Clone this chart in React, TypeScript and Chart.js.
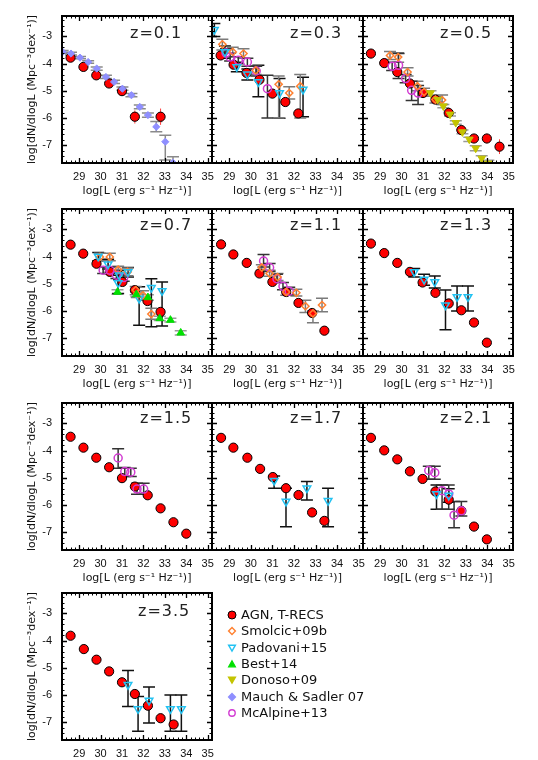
import React, { useEffect, useRef } from 'react';
import { Chart, registerables } from 'chart.js';

Chart.register(...registerables);

// ---------- axes ----------
const X_TICKS = [29, 30, 31, 32, 33, 34, 35];
const Y_TICKS = [-3, -4, -5, -6, -7];
const X_MIN = 28.2;
const X_MAX = 35.2;
const Y_MIN = -7.65;
const Y_MAX = -2.25;
const X_TITLE = 'log[L (erg s⁻¹ Hz⁻¹)]';
const Y_TITLE = 'log[dN/dlogL (Mpc⁻³dex⁻¹)]';

// ---------- data: [logL, logPhi, errLow, errHigh] ----------
type P = [number, number, number | null, number | null];
const n = null;

// z = 0.1
const z01Agn: P[] = [[28.6, -3.78, n, n], [29.2, -4.12, n, n], [29.8, -4.43, n, n], [30.4, -4.73, n, n], [31.0, -5.01, n, n], [31.6, -5.95, -6.2, -5.72], [32.8, -5.95, -6.25, -5.65]];
const z01Mauch: P[] = [[28.23, -3.57, -3.62, -3.52], [28.62, -3.63, -3.68, -3.58], [29.04, -3.78, -3.82, -3.74], [29.42, -3.94, -3.99, -3.89], [29.82, -4.18, -4.24, -4.12], [30.25, -4.49, -4.55, -4.43], [30.63, -4.67, -4.73, -4.61], [31.02, -4.92, -4.98, -4.86], [31.44, -5.16, -5.22, -5.1], [31.83, -5.59, -5.66, -5.52], [32.21, -5.89, -5.97, -5.81], [32.6, -6.32, -6.5, -6.13], [33.02, -6.87, -7.54, -6.63], [33.38, -7.64, -8.5, -7.42]];

// z = 0.3
const z03Agn: P[] = [[28.6, -3.7, n, n], [29.2, -4.04, n, n], [29.8, -4.34, n, n], [30.4, -4.59, n, n], [31.0, -5.1, n, n], [31.6, -5.41, n, n], [32.2, -5.83, n, n]];
const z03Smolcic: P[] = [[28.68, -3.29, -3.5, -3.1], [29.16, -3.57, -3.75, -3.4], [29.66, -3.63, -3.8, -3.45], [30.23, -4.25, -4.4, -4.1], [31.29, -4.76, -6.0, -4.45], [31.78, -5.08, -5.3, -4.85], [32.29, -4.83, -6.0, -4.4]];
const z03Padovani: P[] = [[28.31, -2.75, -3.0, -2.53], [28.8, -3.57, -3.8, -3.35], [29.35, -4.12, -4.3, -3.95], [29.84, -4.39, -4.6, -4.2], [30.35, -4.67, -5.22, -4.06], [31.33, -5.08, -6.01, -4.55], [32.42, -4.95, -5.95, -4.5]];
const z03McAlpine: P[] = [[28.85, -3.61, -3.75, -3.45], [29.04, -3.76, -3.9, -3.62], [29.42, -3.88, -4.0, -3.75], [29.84, -3.94, -4.1, -3.8], [30.25, -4.27, -4.45, -4.1], [30.77, -4.92, -6.0, -4.43]];

// z = 0.5
const z05Agn: P[] = [[28.57, -3.63, n, n], [29.19, -3.98, n, n], [29.8, -4.31, n, n], [30.39, -4.73, n, n], [31.0, -5.08, n, n], [31.58, -5.32, n, n], [32.2, -5.81, n, n], [32.79, -6.44, n, n], [33.38, -6.75, -6.85, -6.65], [33.98, -6.75, -6.93, -6.57], [34.57, -7.05, -7.32, -6.78]];
const z05Smolcic: P[] = [[29.46, -3.7, -3.85, -3.55], [29.84, -3.76, -3.95, -3.6], [30.28, -4.31, -4.45, -4.15], [30.74, -4.83, -5.0, -4.65], [31.05, -5.04, -5.2, -4.9], [31.58, -5.32, -5.45, -5.2], [31.89, -5.34, -5.5, -5.15]];
const z05McAlpine: P[] = [[29.56, -4.1, -4.25, -3.95], [29.86, -4.06, -4.55, -3.63], [30.19, -4.55, -4.7, -4.4], [30.47, -4.98, -5.35, -4.65], [30.77, -5.08, -5.5, -4.8]];
const z05Donoso: P[] = [[31.35, -5.08, -5.15, -5.0], [31.68, -5.32, -5.4, -5.24], [31.95, -5.56, -5.62, -5.5], [32.26, -5.86, -5.92, -5.8], [32.53, -6.17, -6.23, -6.1], [32.84, -6.51, -6.58, -6.44], [33.16, -6.78, -6.86, -6.7], [33.46, -7.11, -7.2, -7.02], [33.74, -7.48, -7.6, -7.38], [34.05, -7.66, -7.8, -7.55]];

// z = 0.7
const z07Agn: P[] = [[28.6, -3.56, n, n], [29.19, -3.89, n, n], [29.81, -4.26, n, n], [30.43, -4.56, n, n], [31.02, -4.93, n, n], [31.6, -5.23, n, n], [32.19, -5.63, n, n], [32.8, -6.03, n, n]];
const z07Best: P[] = [[30.79, -5.3, -5.38, -5.22], [31.67, -5.39, -5.47, -5.31], [32.21, -5.5, -5.6, -5.4], [32.76, -6.27, -6.35, -6.19], [33.26, -6.33, -6.4, -6.26], [33.74, -6.8, -6.88, -6.72]];
const z07Padovani: P[] = [[29.89, -3.99, -4.15, -3.85], [30.35, -4.28, -4.45, -4.1], [30.87, -4.68, -4.85, -4.5], [31.28, -4.56, -4.75, -4.4], [30.82, -4.97, -5.35, -4.68], [31.8, -5.54, -6.52, -5.11], [32.37, -5.14, -6.58, -4.81], [32.87, -5.26, -6.55, -4.93]];
const z07Smolcic: P[] = [[29.97, -4.01, -4.15, -3.88], [30.43, -4.01, -4.15, -3.88], [30.82, -4.48, -4.6, -4.35], [31.26, -4.56, -4.7, -4.42], [31.64, -5.23, -5.4, -5.1], [31.7, -5.38, -5.5, -5.25], [31.98, -5.42, -5.6, -5.25], [32.37, -6.11, -6.3, -5.9]];
const z07McAlpine: P[] = [[30.12, -4.5, -4.62, -4.38], [30.43, -4.5, -4.62, -4.38], [30.74, -4.68, -4.8, -4.55], [31.08, -4.77, -4.9, -4.62]];

// z = 1.1
const z11Agn: P[] = [[28.62, -3.55, n, n], [29.19, -3.92, n, n], [29.81, -4.23, n, n], [30.4, -4.62, n, n], [31.0, -4.93, n, n], [31.64, -5.3, n, n], [32.21, -5.7, n, n], [32.84, -6.07, n, n], [33.41, -6.72, n, n]];
const z11McAlpine: P[] = [[30.59, -4.16, -4.38, -3.92], [30.87, -4.4, -4.55, -4.25], [31.21, -4.81, -4.95, -4.65], [31.49, -5.09, -5.22, -4.95], [31.78, -5.27, -5.4, -5.12]];
const z11Smolcic: P[] = [[30.51, -4.4, -4.5, -4.3], [30.87, -4.62, -4.72, -4.5], [31.24, -4.75, -4.88, -4.62], [31.64, -5.3, -5.42, -5.18], [32.11, -5.33, -5.45, -5.2], [32.53, -5.82, -6.05, -5.6], [32.88, -6.09, -6.43, -6.0], [33.3, -5.78, -6.02, -5.53]];

// z = 1.3
const z13Agn: P[] = [[28.57, -3.52, n, n], [29.19, -3.87, n, n], [29.8, -4.23, n, n], [30.39, -4.56, n, n], [30.98, -4.95, n, n], [31.58, -5.33, n, n], [32.2, -5.72, n, n], [32.79, -5.97, n, n], [33.38, -6.42, n, n], [33.98, -7.16, -7.28, -7.04]];
const z13Padovani: P[] = [[30.59, -4.56, -4.75, -4.44], [31.05, -4.84, -5.05, -4.65], [31.55, -4.93, -5.15, -4.71], [32.05, -5.78, -6.69, -5.23], [32.59, -5.48, -6.0, -5.08], [33.1, -5.48, -6.0, -5.08]];

// z = 1.5
const z15Agn: P[] = [[28.6, -3.49, n, n], [29.2, -3.89, n, n], [29.8, -4.26, n, n], [30.4, -4.61, n, n], [31.0, -5.01, n, n], [31.6, -5.32, n, n], [32.2, -5.64, n, n], [32.8, -6.12, n, n], [33.4, -6.63, n, n], [34.0, -7.05, n, n]];
const z15McAlpine: P[] = [[30.82, -4.27, -4.65, -3.93], [31.13, -4.77, -4.95, -4.62], [31.41, -4.79, -4.95, -4.65], [31.7, -5.41, -5.6, -5.2], [32.01, -5.41, -5.6, -5.2]];

// z = 1.7
const z17Agn: P[] = [[28.62, -3.53, n, n], [29.19, -3.89, n, n], [29.84, -4.26, n, n], [30.43, -4.67, n, n], [31.02, -4.97, n, n], [31.63, -5.38, n, n], [32.21, -5.63, n, n], [32.84, -6.27, n, n], [33.41, -6.58, n, n]];
const z17Padovani: P[] = [[31.08, -5.1, -5.38, -4.93], [31.63, -5.87, -6.8, -5.38], [32.6, -5.38, -5.81, -5.13], [33.58, -5.84, -6.8, -5.38]];

// z = 2.1
const z21Agn: P[] = [[28.57, -3.53, n, n], [29.19, -3.99, n, n], [29.8, -4.32, n, n], [30.39, -4.76, n, n], [30.98, -5.04, n, n], [31.58, -5.5, n, n], [32.2, -5.8, n, n], [32.79, -6.21, n, n], [33.38, -6.79, n, n], [33.98, -7.26, -7.38, -7.14]];
const z21McAlpine: P[] = [[31.27, -4.73, -5.05, -4.57], [31.55, -4.81, -5.05, -4.57], [31.89, -5.47, -6.15, -5.26], [32.2, -5.59, -6.15, -5.26], [32.45, -6.37, -6.83, -5.87], [32.79, -6.21, -6.4, -5.87]];
const z21Padovani: P[] = [[31.63, -5.59, -6.15, -5.26], [32.2, -5.65, -5.9, -5.4]];

// z = 3.5
const z35Agn: P[] = [[28.6, -3.82, n, n], [29.22, -4.31, n, n], [29.81, -4.7, n, n], [30.4, -5.13, n, n], [31.0, -5.53, n, n], [31.6, -5.96, n, n], [32.21, -6.39, n, n], [32.8, -6.85, n, n], [33.41, -7.08, n, n]];
const z35Padovani: P[] = [[31.28, -5.62, -6.42, -5.1], [31.75, -6.51, -7.33, -6.05], [32.26, -6.2, -7.03, -5.7], [33.26, -6.51, -7.33, -6.0], [33.77, -6.51, -7.33, -6.0]];

const REDSHIFT_LABELS = ['z=0.1', 'z=0.3', 'z=0.5', 'z=0.7', 'z=1.1', 'z=1.3', 'z=1.5', 'z=1.7', 'z=2.1', 'z=3.5'];

// ---------- series styles ----------
type Style = {
  label: string; pointStyle: any; radius: number; rotation: number;
  fill: string; stroke: string; lw: number; err: string; errW: number; cap: number;
};
const STYLES: Record<string, Style> = {
  agn: { label: 'AGN, T-RECS', pointStyle: 'circle', radius: 4.6, rotation: 0, fill: '#ff0000', stroke: '#000000', lw: 1, err: '#ff3a3a', errW: 1, cap: 0 },
  smolcic: { label: 'Smolcic+09b', pointStyle: 'rectRot', radius: 3.6, rotation: 0, fill: 'rgba(0,0,0,0)', stroke: '#ff8030', lw: 1.5, err: '#7a7a7a', errW: 1.5, cap: 6 },
  padovani: { label: 'Padovani+15', pointStyle: 'triangle', radius: 4.4, rotation: 180, fill: 'rgba(0,0,0,0)', stroke: '#22c2f2', lw: 1.5, err: '#111111', errW: 1.5, cap: 6 },
  best: { label: 'Best+14', pointStyle: 'triangle', radius: 4.4, rotation: 0, fill: '#00e000', stroke: '#00e000', lw: 1, err: '#999999', errW: 1.5, cap: 6 },
  donoso: { label: 'Donoso+09', pointStyle: 'triangle', radius: 4.4, rotation: 180, fill: '#c4c400', stroke: '#c4c400', lw: 1, err: '#999999', errW: 1.5, cap: 6 },
  mauch: { label: 'Mauch & Sadler 07', pointStyle: 'rectRot', radius: 3.6, rotation: 0, fill: '#8f8fff', stroke: '#8f8fff', lw: 1, err: '#8a8a8a', errW: 1.5, cap: 6 },
  mcalpine: { label: 'McAlpine+13', pointStyle: 'circle', radius: 4, rotation: 0, fill: 'rgba(0,0,0,0)', stroke: '#d23cd2', lw: 1.5, err: '#333333', errW: 1.5, cap: 6 },
};
const LEGEND_ORDER = ['agn', 'smolcic', 'padovani', 'best', 'donoso', 'mauch', 'mcalpine'];

// panel -> series (drawn in list order, red model last => below the data)
const PANEL_SERIES: [string, P[]][][] = [
  [['mauch', z01Mauch], ['agn', z01Agn]],
  [['padovani', z03Padovani], ['smolcic', z03Smolcic], ['mcalpine', z03McAlpine], ['agn', z03Agn]],
  [['donoso', z05Donoso], ['smolcic', z05Smolcic], ['mcalpine', z05McAlpine], ['agn', z05Agn]],
  [['best', z07Best], ['padovani', z07Padovani], ['smolcic', z07Smolcic], ['mcalpine', z07McAlpine], ['agn', z07Agn]],
  [['smolcic', z11Smolcic], ['mcalpine', z11McAlpine], ['agn', z11Agn]],
  [['padovani', z13Padovani], ['agn', z13Agn]],
  [['mcalpine', z15McAlpine], ['agn', z15Agn]],
  [['padovani', z17Padovani], ['agn', z17Agn]],
  [['padovani', z21Padovani], ['mcalpine', z21McAlpine], ['agn', z21Agn]],
  [['padovani', z35Padovani], ['agn', z35Agn]],
];

// ---------- layout ----------
const BOX_LEFT = [62, 212, 363];
const BOX_W = [150, 151, 150];
const BOX_TOP = [16, 209, 403, 593];
const BOX_H = 147;
const PAD_T = 20;
const PAD_B = 35;
const PAD_SIDE = 14;
const Z_DX = [68, 78, 77, 78, 78, 77, 78, 78, 77, 76];
const Z_DY = [17, 17, 17, 16, 16, 16, 15, 15, 15, 18];

// ---------- plugins ----------
const errorBarsPlugin = {
  id: 'errorBars',
  beforeDatasetsDraw(chart: any) {
    const { ctx, chartArea, scales } = chart;
    const xs = scales.x, ys = scales.y;
    ctx.save();
    ctx.beginPath();
    ctx.rect(chartArea.left, chartArea.top, chartArea.right - chartArea.left, chartArea.bottom - chartArea.top);
    ctx.clip();
    chart.data.datasets.forEach((ds: any) => {
      const errs = ds.errs as ([number | null, number | null])[];
      if (!errs) return;
      ctx.strokeStyle = ds.errColor;
      ctx.lineWidth = ds.errWidth;
      ds.data.forEach((p: any, i: number) => {
        const e = errs[i];
        if (!e || e[0] === null || e[1] === null) return;
        const px = xs.getPixelForValue(p.x);
        const lo = ys.getPixelForValue(e[0]);
        const hi = ys.getPixelForValue(e[1]);
        ctx.beginPath();
        ctx.moveTo(px, lo);
        ctx.lineTo(px, hi);
        if (ds.capW > 0) {
          ctx.moveTo(px - ds.capW, lo); ctx.lineTo(px + ds.capW, lo);
          ctx.moveTo(px - ds.capW, hi); ctx.lineTo(px + ds.capW, hi);
        }
        ctx.stroke();
      });
    });
    ctx.restore();
  },
};

const framePlugin = {
  id: 'idlFrame',
  afterDatasetsDraw(chart: any) {
    const { ctx, chartArea, scales } = chart;
    const { left, right, top, bottom } = chartArea;
    const xs = scales.x, ys = scales.y;
    ctx.save();
    ctx.strokeStyle = '#000';
    // minor ticks (5 per major interval)
    ctx.lineWidth = 1;
    ctx.beginPath();
    for (let k = Math.ceil(X_MIN * 5); k <= Math.floor(X_MAX * 5); k++) {
      if (k % 5 === 0) continue;
      const px = Math.round(xs.getPixelForValue(k / 5)) + 0.5;
      ctx.moveTo(px, bottom); ctx.lineTo(px, bottom - 2.5);
      ctx.moveTo(px, top); ctx.lineTo(px, top + 2.5);
    }
    for (let k = Math.ceil(Y_MIN * 5); k <= Math.floor(Y_MAX * 5); k++) {
      if (k % 5 === 0) continue;
      const py = Math.round(ys.getPixelForValue(k / 5)) + 0.5;
      ctx.moveTo(left, py); ctx.lineTo(left + 2.5, py);
      ctx.moveTo(right, py); ctx.lineTo(right - 2.5, py);
    }
    ctx.stroke();
    // major ticks
    ctx.lineWidth = 1.3;
    ctx.beginPath();
    X_TICKS.forEach((v) => {
      const px = Math.round(xs.getPixelForValue(v)) + 0.5;
      ctx.moveTo(px, bottom); ctx.lineTo(px, bottom - 5);
      ctx.moveTo(px, top); ctx.lineTo(px, top + 5);
    });
    Y_TICKS.forEach((v) => {
      const py = Math.round(ys.getPixelForValue(v)) + 0.5;
      ctx.moveTo(left, py); ctx.lineTo(left + 5, py);
      ctx.moveTo(right, py); ctx.lineTo(right - 5, py);
    });
    ctx.stroke();
    // box
    ctx.lineWidth = 2;
    ctx.strokeRect(left, top, right - left, bottom - top);
    ctx.restore();
  },
};

// ---------- panel ----------
function Panel({ index }: { index: number }) {
  const ref = useRef<HTMLCanvasElement>(null);
  const col = index < 9 ? index % 3 : 0;
  const row = Math.floor(index / 3);
  const isLeft = col === 0;
  const padL = isLeft ? BOX_LEFT[0] : PAD_SIDE;
  const cLeft = BOX_LEFT[col] - padL;
  const cTop = BOX_TOP[row] - PAD_T;
  const cW = padL + BOX_W[col] + PAD_SIDE;
  const cH = PAD_T + BOX_H + PAD_B;

  useEffect(() => {
    const datasets = PANEL_SERIES[index].map(([key, pts]) => {
      const s = STYLES[key];
      return {
        label: s.label,
        data: pts.map((p) => ({ x: p[0], y: p[1] })),
        errs: pts.map((p) => [p[2], p[3]]),
        errColor: s.err,
        errWidth: s.errW,
        capW: s.cap,
        pointStyle: s.pointStyle,
        pointRadius: s.radius,
        pointRotation: s.rotation,
        pointBackgroundColor: s.fill,
        pointBorderColor: s.stroke,
        pointBorderWidth: s.lw,
        showLine: false,
      } as any;
    });
    const tickFont = { family: 'Liberation Sans', size: 11 };
    const titleFont = { family: 'DejaVu Sans', size: 11 };
    const chart = new Chart(ref.current as HTMLCanvasElement, {
      type: 'scatter',
      data: { datasets },
      options: {
        animation: false,
        responsive: false,
        maintainAspectRatio: false,
        events: [],
        layout: { padding: { top: PAD_T, right: PAD_SIDE, left: 0, bottom: 0 } },
        plugins: { legend: { display: false }, tooltip: { enabled: false } },
        scales: {
          x: {
            type: 'linear',
            min: X_MIN,
            max: X_MAX,
            afterBuildTicks: (s: any) => { s.ticks = X_TICKS.map((v) => ({ value: v })); },
            afterFit: (s: any) => { s.height = PAD_B; },
            grid: { display: false, drawTicks: false },
            border: { display: false },
            ticks: { padding: 7, font: tickFont, color: '#111', autoSkip: false, maxRotation: 0 },
            title: { display: true, text: X_TITLE, font: titleFont, color: '#111', padding: { top: 0, bottom: 0 } },
          },
          y: {
            type: 'linear',
            min: Y_MIN,
            max: Y_MAX,
            afterBuildTicks: (s: any) => { s.ticks = Y_TICKS.map((v) => ({ value: v })); },
            afterFit: (s: any) => { s.width = padL; },
            grid: { display: false, drawTicks: false },
            border: { display: false },
            ticks: { display: isLeft, padding: 10, font: tickFont, color: '#111', autoSkip: false },
            title: { display: isLeft, text: Y_TITLE, font: titleFont, color: '#111', padding: { top: 26, bottom: 0 } },
          },
        },
      } as any,
      plugins: [errorBarsPlugin, framePlugin],
    });
    return () => chart.destroy();
  }, [index]);

  return (
    <>
      <canvas
        ref={ref}
        width={cW}
        height={cH}
        style={{ position: 'absolute', left: cLeft, top: cTop, width: cW, height: cH }}
      />
      <div
        style={{
          position: 'absolute',
          left: BOX_LEFT[col] + Z_DX[index],
          top: BOX_TOP[row] + Z_DY[index] - 9,
          fontFamily: 'DejaVu Sans',
          fontSize: 16,
          lineHeight: '18px',
          letterSpacing: 1,
          color: '#222',
          whiteSpace: 'nowrap',
        }}
      >
        {REDSHIFT_LABELS[index]}
      </div>
    </>
  );
}

function Marker({ k }: { k: string }) {
  const s = STYLES[k];
  const fill = s.fill.startsWith('rgba') ? 'none' : s.fill;
  let shape: React.ReactNode;
  if (s.pointStyle === 'circle') {
    shape = <circle cx={6} cy={6} r={k === 'agn' ? 4 : 3.2} fill={fill} stroke={s.stroke} strokeWidth={k === 'agn' ? 1 : 1.4} />;
  } else if (s.pointStyle === 'rectRot') {
    shape = <polygon points="6,2.6 9.4,6 6,9.4 2.6,6" fill={fill} stroke={s.stroke} strokeWidth={1.4} />;
  } else if (s.rotation === 180) {
    shape = <polygon points="2.6,3.2 9.4,3.2 6,9.2" fill={fill} stroke={s.stroke} strokeWidth={1.4} />;
  } else {
    shape = <polygon points="6,2.8 9.4,8.8 2.6,8.8" fill={fill} stroke={s.stroke} strokeWidth={1.2} />;
  }
  return <svg width={12} height={12} style={{ position: 'absolute', left: 0, top: 2 }}>{shape}</svg>;
}

function Legend() {
  return (
    <div style={{ position: 'absolute', left: 226, top: 607 }}>
      {LEGEND_ORDER.map((k, i) => (
        <div key={k} style={{ position: 'absolute', left: 0, top: i * 16.3, height: 16, whiteSpace: 'nowrap' }}>
          <Marker k={k} />
          <span
            style={{
              position: 'absolute',
              left: 15,
              top: 0,
              fontFamily: 'DejaVu Sans',
              fontSize: 13,
              lineHeight: '16px',
              color: '#111',
            }}
          >
            {STYLES[k].label}
          </span>
        </div>
      ))}
    </div>
  );
}

export default function App() {
  return (
    <div style={{ position: 'absolute', left: 0, top: 0, width: 538, height: 760, overflow: 'hidden', background: '#fff' }}>
      {REDSHIFT_LABELS.map((_, i) => (
        <Panel key={i} index={i} />
      ))}
      <Legend />
    </div>
  );
}
